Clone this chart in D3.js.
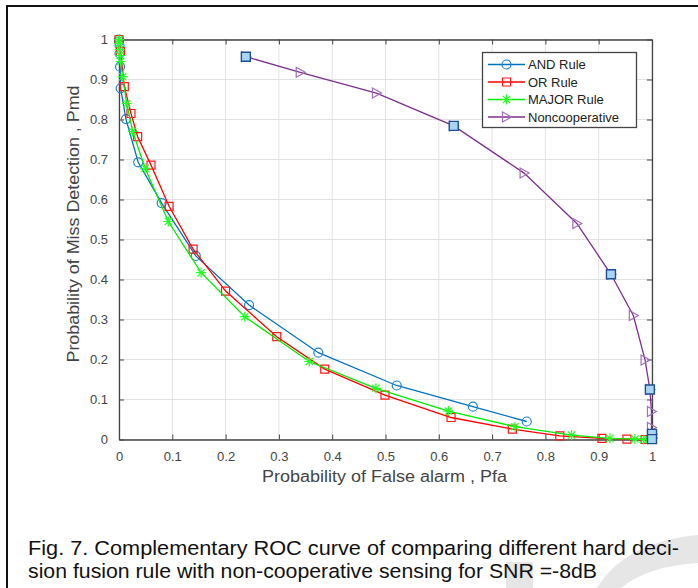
<!DOCTYPE html>
<html>
<head>
<meta charset="utf-8">
<script src="https://cdn.jsdelivr.net/npm/d3@7"></script>
<style>
  html, body { margin: 0; padding: 0; background: #fff; }
  svg { display: block; font-family: "Liberation Sans", Arial, sans-serif; }
</style>
</head>
<body>
<svg id="chart" width="698" height="588"></svg>
<script>
// ---------------- data ----------------
const tickValues = [0, 0.1, 0.2, 0.3, 0.4, 0.5, 0.6, 0.7, 0.8, 0.9, 1];
const xTickLabels = ["0", "0.1", "0.2", "0.3", "0.4", "0.5", "0.6", "0.7", "0.8", "0.9", "1"];
const yTickLabels = ["0", "0.1", "0.2", "0.3", "0.4", "0.5", "0.6", "0.7", "0.8", "0.9", "1"];

const andPfa = [0, 0.000, 0.001, 0.001, 0.002, 0.003, 0.013, 0.036, 0.080, 0.144, 0.244, 0.374, 0.521, 0.664, 0.765];
const andPmd = [1, 0.995, 0.985, 0.965, 0.932, 0.878, 0.801, 0.693, 0.591, 0.459, 0.336, 0.217, 0.135, 0.082, 0.045];

const orPfa = [0, 0.003, 0.010, 0.0225, 0.035, 0.060, 0.094, 0.139, 0.200, 0.296, 0.386, 0.499, 0.623, 0.738, 0.827, 0.906, 0.953, 0.987, 0.999];
const orPmd = [1, 0.970, 0.882, 0.815, 0.757, 0.686, 0.583, 0.476, 0.371, 0.257, 0.176, 0.111, 0.055, 0.026, 0.009, 0.003, 0.001, 0.000, 0.000];

const majorPfa = [0, 0.000, 0.001, 0.002, 0.003, 0.007, 0.0144, 0.0257, 0.049, 0.0925, 0.154, 0.236, 0.357, 0.482, 0.618, 0.743, 0.849, 0.921, 0.968, 0.984, 0.992];
const majorPmd = [1, 0.990, 0.975, 0.960, 0.945, 0.907, 0.840, 0.770, 0.678, 0.545, 0.417, 0.307, 0.195, 0.128, 0.071, 0.032, 0.011, 0.003, 0.001, 0.000, 0.000];

const nonPfa = [0.238, 0.340, 0.483, 0.628, 0.760, 0.859, 0.923, 0.965, 0.987, 0.996, 0.999, 0.999, 1.000, 1.000];
const nonPmd = [0.957, 0.918, 0.866, 0.784, 0.666, 0.540, 0.413, 0.310, 0.199, 0.125, 0.070, 0.030, 0.014, 0.003];

// extra highlighted (filled square) points on the non-cooperative curve
const hiPfa = [0.238, 0.628, 0.923, 0.996, 1.000, 1.000];
const hiPmd = [0.957, 0.784, 0.413, 0.125, 0.014, 0.001];

const seriesNames = ["AND Rule", "OR Rule", "MAJOR Rule", "Noncooperative"];
const xLabel = "Probability of False alarm , Pfa";
const yLabel = "Probability of Miss Detection , Pmd";
const captionLines = [
  "Fig. 7. Complementary ROC curve of comparing different hard deci-",
  "sion fusion rule with non-cooperative sensing for SNR =-8dB"
];

// ---------------- drawing ----------------
const svg = d3.select("#chart");
const L = 119, R = 652, T = 39.5, B = 439.5;
const x = d3.scaleLinear().domain([0, 1]).range([L, R]);
const y = d3.scaleLinear().domain([0, 1]).range([B, T]);

// page frame
svg.append("line").attr("x1", 6).attr("x2", 698).attr("y1", 6).attr("y2", 6)
  .attr("stroke", "#111").attr("stroke-width", 2);
svg.append("line").attr("x1", 7).attr("x2", 7).attr("y1", 5).attr("y2", 588)
  .attr("stroke", "#111").attr("stroke-width", 2);

// background watermark shapes
svg.append("rect").attr("x", 506).attr("y", 562).attr("width", 27).attr("height", 26).attr("fill", "#e6e6e6");
svg.append("path").attr("d", "M597,588 Q625,542 698,535 L698,563 Q648,566 621,588 Z").attr("fill", "#e6e6e6");

// grid
const grid = svg.append("g");
grid.selectAll("line.gx").data(tickValues).join("line")
  .attr("x1", d => x(d)).attr("x2", d => x(d)).attr("y1", T).attr("y2", B)
  .attr("stroke", "#e2e2e2").attr("stroke-width", 1);
grid.selectAll("line.gy").data(tickValues).join("line")
  .attr("y1", d => y(d)).attr("y2", d => y(d)).attr("x1", L).attr("x2", R)
  .attr("stroke", "#e2e2e2").attr("stroke-width", 1);

const axisColor = "#444";
const labelColor = "#444";

function styleAxis(g) {
  g.selectAll(".domain").attr("stroke", axisColor).attr("stroke-width", 1.3);
  g.selectAll(".tick line").attr("stroke", axisColor);
  g.selectAll(".tick text").attr("fill", labelColor).attr("font-size", 13)
    .attr("font-family", "Liberation Sans, Arial, sans-serif");
}

const xAxis = d3.axisBottom(x).tickValues(tickValues).tickSizeInner(-5).tickSizeOuter(0)
  .tickPadding(12).tickFormat((d, i) => xTickLabels[i]);
svg.append("g").attr("transform", `translate(0,${B})`).call(xAxis).call(styleAxis);

const xAxisTop = d3.axisTop(x).tickValues(tickValues).tickSizeInner(-5).tickSizeOuter(0).tickFormat("");
svg.append("g").attr("transform", `translate(0,${T})`).call(xAxisTop).call(styleAxis);

const yAxis = d3.axisLeft(y).tickValues(tickValues).tickSizeInner(-5).tickSizeOuter(0)
  .tickPadding(11).tickFormat((d, i) => yTickLabels[i]);
svg.append("g").attr("transform", `translate(${L},0)`).call(yAxis).call(styleAxis);

const yAxisRight = d3.axisRight(y).tickValues(tickValues).tickSizeInner(-5).tickSizeOuter(0).tickFormat("");
svg.append("g").attr("transform", `translate(${R},0)`).call(yAxisRight).call(styleAxis);

// axis labels
svg.append("text").attr("x", 384.5).attr("y", 482).attr("text-anchor", "middle")
  .attr("font-size", 16).attr("fill", labelColor)
  .attr("textLength", 245).attr("lengthAdjust", "spacingAndGlyphs").text(xLabel);
svg.append("text").attr("transform", "translate(79,224) rotate(-90)").attr("text-anchor", "middle")
  .attr("font-size", 16).attr("fill", labelColor)
  .attr("textLength", 277).attr("lengthAdjust", "spacingAndGlyphs").text(yLabel);

// marker shapes
const sym = {
  circle: "M4.5,0 A4.5,4.5 0 1,1 -4.5,0 A4.5,4.5 0 1,1 4.5,0 Z",
  square: "M-4,-4 L4,-4 L4,4 L-4,4 Z",
  star: "M-5,0 L5,0 M0,-5 L0,5 M-3.6,-3.6 L3.6,3.6 M-3.6,3.6 L3.6,-3.6",
  tri: "M-4,-5 L5,0 L-4,5 Z",
  bigsq: "M-4.5,-4.5 L4.5,-4.5 L4.5,4.5 L-4.5,4.5 Z"
};

const series = [
  { name: seriesNames[0], xs: andPfa, ys: andPmd, color: "#0072BD", mColor: "#1f82cc", marker: "circle", mw: 1.2 },
  { name: seriesNames[1], xs: orPfa, ys: orPmd, color: "#FF0000", mColor: "#ff1a1a", marker: "square", mw: 1.2 },
  { name: seriesNames[2], xs: majorPfa, ys: majorPmd, color: "#00EE00", mColor: "#22ff22", marker: "star", mw: 1.2 },
  { name: seriesNames[3], xs: nonPfa, ys: nonPmd, color: "#7E2F8E", mColor: "#a070b8", marker: "tri", mw: 1.2 }
];

const line = d3.line().x(d => x(d[0])).y(d => y(d[1]));
const plot = svg.append("g");

series.forEach(s => {
  const pts = s.xs.map((v, i) => [v, s.ys[i]]);
  plot.append("path").datum(pts).attr("d", line).attr("fill", "none")
    .attr("stroke", s.color).attr("stroke-width", 1.3);
  plot.append("g").selectAll("path").data(pts).join("path")
    .attr("transform", d => `translate(${x(d[0])},${y(d[1])})`)
    .attr("d", sym[s.marker]).attr("fill", "none")
    .attr("stroke", s.mColor).attr("stroke-width", s.mw);
});

// highlighted filled squares
const hiPts = hiPfa.map((v, i) => [v, hiPmd[i]]);
plot.append("g").selectAll("path").data(hiPts).join("path")
  .attr("transform", d => `translate(${x(d[0])},${y(d[1])})`)
  .attr("d", sym.bigsq).attr("fill", "#a9d5f2").attr("stroke", "#1d4f96").attr("stroke-width", 1.4);

// legend
const lg = svg.append("g");
lg.append("rect").attr("x", 482.5).attr("y", 52.5).attr("width", 154).attr("height", 75)
  .attr("fill", "#fff").attr("stroke", "#444").attr("stroke-width", 1.3);
const rowsY = [64.5, 82, 99.5, 117];
series.forEach((s, i) => {
  const yy = rowsY[i];
  lg.append("line").attr("x1", 488).attr("x2", 525).attr("y1", yy).attr("y2", yy)
    .attr("stroke", s.color).attr("stroke-width", 1.3);
  lg.append("path").attr("transform", `translate(506.5,${yy})`).attr("d", sym[s.marker])
    .attr("fill", "none").attr("stroke", s.mColor).attr("stroke-width", s.mw);
  lg.append("text").attr("x", 528).attr("y", yy + 4.6).attr("font-size", 13)
    .attr("fill", "#222").text(s.name);
});

// caption
svg.append("text").attr("x", 28).attr("y", 555).attr("font-size", 20.5).attr("fill", "#111")
  .attr("textLength", 651).attr("lengthAdjust", "spacingAndGlyphs").text(captionLines[0]);
svg.append("text").attr("x", 28).attr("y", 578).attr("font-size", 20.5).attr("fill", "#111")
  .attr("textLength", 569).attr("lengthAdjust", "spacingAndGlyphs").text(captionLines[1]);
</script>
</body>
</html>
